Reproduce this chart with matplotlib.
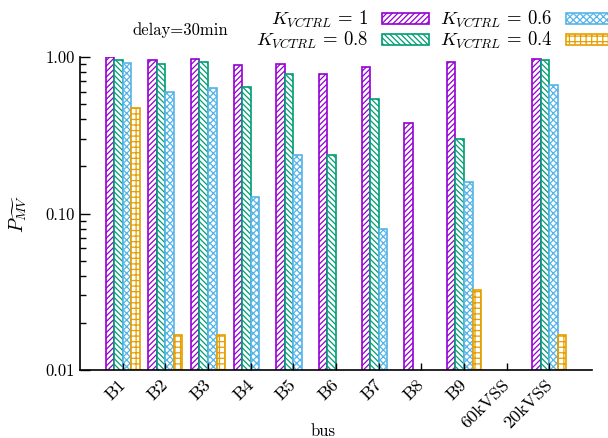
import numpy as np
import matplotlib
matplotlib.use("Agg")
import matplotlib.pyplot as plt
import matplotlib.transforms as mtransforms
from matplotlib.ticker import FixedLocator, LogLocator, FuncFormatter, NullFormatter

plt.rcParams['font.family'] = 'serif'
plt.rcParams['font.serif'] = ['cmr10', 'DejaVu Serif']
plt.rcParams['mathtext.fontset'] = 'cm'
plt.rcParams['axes.formatter.use_mathtext'] = True
plt.rcParams['hatch.linewidth'] = 0.9

buses = ['B1', 'B2', 'B3', 'B4', 'B5', 'B6', 'B7', 'B8', 'B9', '60kVSS', '20kVSS']
nan = np.nan
k_1   = [0.995, 0.957, 0.976, 0.885, 0.898, 0.775, 0.867, 0.377, 0.925, nan, 0.976]
k_08  = [0.957, 0.898, 0.925, 0.646, 0.775, 0.235, 0.537, nan, 0.298, nan, 0.957]
k_06  = [0.910, 0.598, 0.630, 0.126, 0.236, nan, 0.0785, nan, 0.157, nan, 0.663]
k_04  = [0.470, 0.0157, 0.0157, nan, nan, nan, nan, nan, 0.0315, nan, 0.0157]

series = [
    (k_1, r'$K_{VCTRL}\,=\,1$', '#9400d3', '//////'),
    (k_08, r'$K_{VCTRL}\,=\,0.8$', '#009e73', '\\\\\\\\\\\\'),
    (k_06, r'$K_{VCTRL}\,=\,0.6$', '#56b4e9', 'xxxxx'),
    (k_04, r'$K_{VCTRL}\,=\,0.4$', '#e69f00', '+++'),
]

fig = plt.figure(figsize=(6.08, 4.38), dpi=100)
ax = fig.add_axes([80/608, 1-370/438, 512/608, 313/438])

x = np.arange(len(buses))
w = 0.2
handles = []
for i, (vals, lab, col, hat) in enumerate(series):
    b = ax.bar(x - 0.3 + i*w, vals, w, bottom=0.001, facecolor='white', edgecolor=col,
               hatch=hat, linewidth=1.2, label=lab)
    handles.append(b)

ax.set_yscale('log')
ax.set_ylim(0.01, 1.0)
ax.set_xlim(-1, 11)
ax.yaxis.set_major_locator(FixedLocator([0.01, 0.1, 1.0]))
ax.yaxis.set_major_formatter(FuncFormatter(lambda v, p: f'{v:.2f}'))
ax.yaxis.set_minor_locator(LogLocator(base=10, subs=np.arange(2, 10)))
ax.yaxis.set_minor_formatter(NullFormatter())
ax.tick_params(axis='y', which='major', direction='in', length=7, width=1, labelsize=12)
ax.tick_params(axis='y', which='minor', direction='in', length=4, width=1)
ax.set_xticks(x)
ax.set_xticklabels(buses, rotation=45, ha='right', rotation_mode='anchor', fontsize=13)
ax.tick_params(axis='x', direction='in', length=5, width=1, pad=5)
shift = mtransforms.ScaledTranslation(-5/100, 0, fig.dpi_scale_trans)
for t in ax.get_xticklabels():
    t.set_transform(t.get_transform() + shift)
for s in ['top', 'right']:
    ax.spines[s].set_visible(False)
for s in ['left', 'bottom']:
    ax.spines[s].set_linewidth(1.2)

ax.set_xlabel('bus', fontsize=12)
ax.xaxis.set_label_coords(0.474, -0.17)
ax.set_ylabel(r'$P_{\widetilde{MV}}$', fontsize=14)
ax.yaxis.set_label_coords(-0.10, 0.5)
ax.text(0.103, 1.085, 'delay=30min', transform=ax.transAxes, fontsize=12, va='center')

fig.legend(handles=handles, ncol=2, markerfirst=False, frameon=False, fontsize=13.5,
           loc='upper left', bbox_to_anchor=(256/608, 1-9/438), borderpad=0,
           borderaxespad=0, handlelength=2.5, handleheight=0.5, handletextpad=0.75,
           columnspacing=0.55, labelspacing=0.0)

fig.savefig('out.png', dpi=100)
